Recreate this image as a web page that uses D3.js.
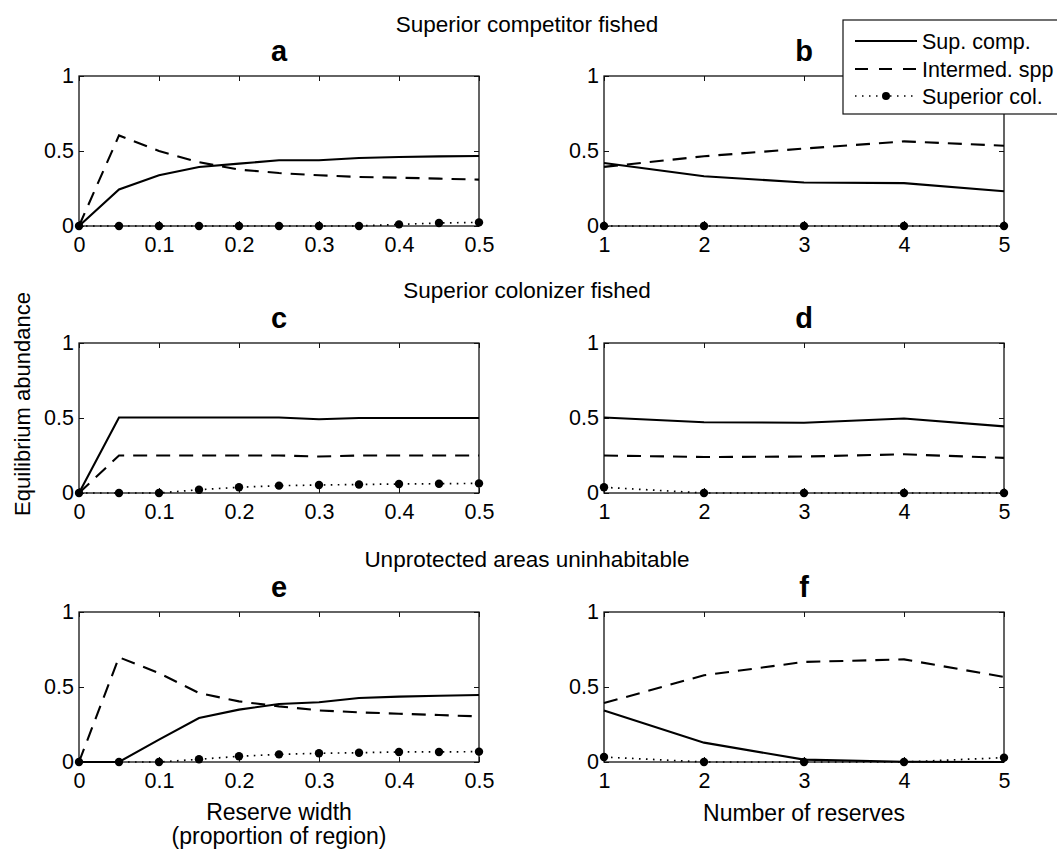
<!DOCTYPE html>
<html>
<head>
<meta charset="utf-8">
<script src="https://cdn.jsdelivr.net/npm/d3@7/dist/d3.min.js"></script>
<style>
  html, body { margin: 0; padding: 0; background: #fff; }
  svg { display: block; font-family: "Liberation Sans", Arial, Helvetica, sans-serif; }
</style>
</head>
<body>
<svg id="chart" width="1057" height="849"></svg>
<script>
// ---------- data ----------
const widths = [0, 0.05, 0.1, 0.15, 0.2, 0.25, 0.3, 0.35, 0.4, 0.45, 0.5];
const reserves = [1, 2, 3, 4, 5];

const widthTicks = [0, 0.1, 0.2, 0.3, 0.4, 0.5];
const widthTickLabels = ["0", "0.1", "0.2", "0.3", "0.4", "0.5"];
const reserveTicks = [1, 2, 3, 4, 5];
const reserveTickLabels = ["1", "2", "3", "4", "5"];
const yTicks = [0, 0.5, 1];
const yTickLabels = ["0", "0.5", "1"];

const seriesNames = ["Sup. comp.", "Intermed. spp", "Superior col."];
const sectionTitles = ["Superior competitor fished", "Superior colonizer fished", "Unprotected areas uninhabitable"];
const panelLetters = ["a", "b", "c", "d", "e", "f"];

// panel a
const aSup = [0, 0.244, 0.338, 0.393, 0.416, 0.438, 0.438, 0.453, 0.46, 0.464, 0.467];
const aInt = [0, 0.604, 0.5, 0.425, 0.376, 0.353, 0.338, 0.327, 0.322, 0.316, 0.309];
const aCol = [0, 0, 0, 0, 0, 0, 0, 0, 0.011, 0.02, 0.024];
// panel b
const bSup = [0.42, 0.332, 0.29, 0.286, 0.232];
const bInt = [0.394, 0.465, 0.516, 0.564, 0.535];
const bCol = [0, 0, 0, 0, 0];
// panel c
const cSup = [0, 0.503, 0.503, 0.503, 0.503, 0.503, 0.492, 0.5, 0.5, 0.5, 0.5];
const cInt = [0, 0.25, 0.25, 0.25, 0.25, 0.25, 0.243, 0.25, 0.25, 0.25, 0.25];
const cCol = [0, 0, 0, 0.022, 0.038, 0.049, 0.053, 0.057, 0.06, 0.062, 0.064];
// panel d
const dSup = [0.503, 0.472, 0.468, 0.497, 0.444];
const dInt = [0.25, 0.24, 0.243, 0.258, 0.234];
const dCol = [0.038, 0, 0, 0, 0];
// panel e
const eSup = [0, 0, 0.149, 0.293, 0.349, 0.387, 0.398, 0.427, 0.436, 0.442, 0.447];
const eInt = [0, 0.698, 0.593, 0.46, 0.404, 0.371, 0.344, 0.331, 0.322, 0.313, 0.304];
const eCol = [0, 0, 0, 0.018, 0.038, 0.051, 0.058, 0.062, 0.067, 0.067, 0.069];
// panel f
const fSup = [0.344, 0.129, 0.016, 0.002, 0];
const fInt = [0.393, 0.578, 0.667, 0.684, 0.567];
const fCol = [0.033, 0, 0, 0, 0.029];

// ---------- layout ----------
const svg = d3.select("#chart");
const colX = [79, 604];
const rowY = [76, 343, 612];
const pw = 400, ph = 150;
const FS = 21.5;
const FONT = '"Liberation Sans", Arial, Helvetica, sans-serif';

const panels = [
  { xs: widths, sup: aSup, int: aInt, col: aCol, c: 0, r: 0 },
  { xs: reserves, sup: bSup, int: bInt, col: bCol, c: 1, r: 0 },
  { xs: widths, sup: cSup, int: cInt, col: cCol, c: 0, r: 1 },
  { xs: reserves, sup: dSup, int: dInt, col: dCol, c: 1, r: 1 },
  { xs: widths, sup: eSup, int: eInt, col: eCol, c: 0, r: 2 },
  { xs: reserves, sup: fSup, int: fInt, col: fCol, c: 1, r: 2 }
];

const dashStyle = "14,9";
const dotStyle = "1.6,5.4";

panels.forEach((p, i) => {
  const g = svg.append("g").attr("transform", `translate(${colX[p.c]},${rowY[p.r]})`);
  const isWidth = p.c === 0;
  const x = d3.scaleLinear().domain(isWidth ? [0, 0.5] : [1, 5]).range([0, pw]);
  const y = d3.scaleLinear().domain([0, 1]).range([ph, 0]);
  const xt = isWidth ? widthTicks : reserveTicks;
  const xl = isWidth ? widthTickLabels : reserveTickLabels;

  // axes (ticks inward, MATLAB style)
  const bottom = g.append("g").attr("transform", `translate(0,${ph})`)
    .call(d3.axisBottom(x).tickValues(xt).tickFormat((d, k) => xl[k]).tickSize(-5).tickPadding(11));
  const top = g.append("g")
    .call(d3.axisTop(x).tickValues(xt).tickFormat("").tickSize(-5));
  const left = g.append("g")
    .call(d3.axisLeft(y).tickValues(yTicks).tickFormat((d, k) => yTickLabels[k]).tickSize(-5).tickPadding(5));
  const right = g.append("g").attr("transform", `translate(${pw},0)`)
    .call(d3.axisRight(y).tickValues(yTicks).tickFormat("").tickSize(-5));
  [bottom, top, left, right].forEach(a => {
    a.select(".domain").remove();
    a.selectAll(".tick line").attr("stroke", "#111").attr("stroke-width", 1);
    a.selectAll("text").attr("font-size", FS).attr("fill", "#000").style("font-family", FONT);
  });

  g.append("rect").attr("x", 0).attr("y", 0).attr("width", pw).attr("height", ph)
    .attr("fill", "none").attr("stroke", "#111").attr("stroke-width", 1.3);

  const line = d3.line().x((d, k) => x(p.xs[k])).y(d => y(d));

  // superior colonizer: dotted with dot markers
  g.append("path").datum(p.col).attr("d", line).attr("fill", "none")
    .attr("stroke", "#000").attr("stroke-width", 1.7).attr("stroke-dasharray", dotStyle);
  g.selectAll(".mk").data(p.col).enter().append("circle")
    .attr("cx", (d, k) => x(p.xs[k])).attr("cy", d => y(d)).attr("r", 4.2).attr("fill", "#000");
  // intermediate: dashed
  g.append("path").datum(p.int).attr("d", line).attr("fill", "none")
    .attr("stroke", "#000").attr("stroke-width", 2.1).attr("stroke-dasharray", dashStyle);
  // superior competitor: solid
  g.append("path").datum(p.sup).attr("d", line).attr("fill", "none")
    .attr("stroke", "#000").attr("stroke-width", 2.1);

  // panel letter
  g.append("text").attr("x", pw / 2).attr("y", -15).attr("text-anchor", "middle")
    .attr("font-size", 29).attr("font-weight", "bold").text(panelLetters[i]);
});

// section titles
const secBase = [32, 298, 567];
sectionTitles.forEach((t, k) => {
  svg.append("text").attr("x", 527).attr("y", secBase[k]).attr("text-anchor", "middle")
    .attr("font-size", 22.5).text(t);
});

// y axis label
svg.append("text").attr("transform", "translate(30,404) rotate(-90)")
  .attr("text-anchor", "middle").attr("font-size", 22).text("Equilibrium abundance");

// x axis labels
svg.append("text").attr("x", colX[0] + pw / 2).attr("y", 820).attr("text-anchor", "middle")
  .attr("font-size", 23).text("Reserve width");
svg.append("text").attr("x", colX[0] + pw / 2).attr("y", 844).attr("text-anchor", "middle")
  .attr("font-size", 23).text("(proportion of region)");
svg.append("text").attr("x", colX[1] + pw / 2).attr("y", 821).attr("text-anchor", "middle")
  .attr("font-size", 23).text("Number of reserves");

// legend
const lg = svg.append("g");
lg.append("rect").attr("x", 843).attr("y", 20).attr("width", 240).attr("height", 94)
  .attr("fill", "#fff").attr("stroke", "#111").attr("stroke-width", 1.2);
const rowsY = [41, 69, 96];
const styles = [null, dashStyle, dotStyle];
seriesNames.forEach((name, k) => {
  const ln = lg.append("line").attr("x1", 855).attr("x2", 917).attr("y1", rowsY[k]).attr("y2", rowsY[k])
    .attr("stroke", "#000").attr("stroke-width", k === 2 ? 1.6 : 2.1);
  if (styles[k]) ln.attr("stroke-dasharray", k === 1 ? "13,11" : "1.5,5.5");
  if (k === 2) lg.append("circle").attr("cx", 886).attr("cy", rowsY[k]).attr("r", 4).attr("fill", "#000");
  lg.append("text").attr("x", 922).attr("y", rowsY[k]).attr("dy", "0.35em")
    .attr("font-size", FS).text(name);
});
</script>
</body>
</html>
